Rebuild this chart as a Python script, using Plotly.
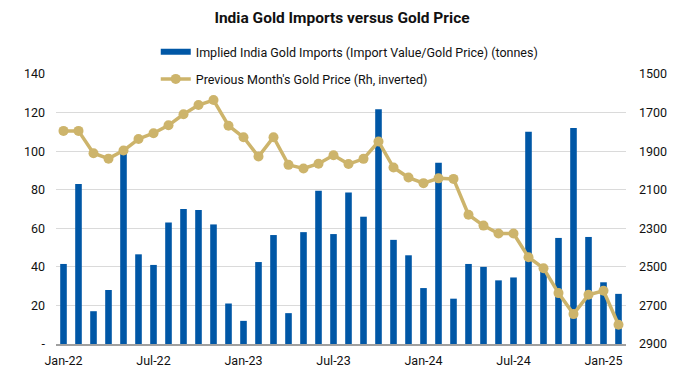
import plotly.graph_objects as go

months = ["Jan-22","Feb-22","Mar-22","Apr-22","May-22","Jun-22","Jul-22","Aug-22","Sep-22","Oct-22","Nov-22","Dec-22",
          "Jan-23","Feb-23","Mar-23","Apr-23","May-23","Jun-23","Jul-23","Aug-23","Sep-23","Oct-23","Nov-23","Dec-23",
          "Jan-24","Feb-24","Mar-24","Apr-24","May-24","Jun-24","Jul-24","Aug-24","Sep-24","Oct-24","Nov-24","Dec-24",
          "Jan-25","Feb-25"]
imports_t = [41.5, 83, 17, 28, 99, 46.5, 41, 63, 70, 69.5, 62, 21,
             12, 42.5, 56.5, 16, 58, 79.5, 57, 78.5, 66, 121.7, 54, 46,
             29, 94, 23.5, 41.5, 40, 33, 34.5, 110, 38, 55, 112, 55.5,
             32, 26]
gold_price = [1795, 1795, 1911, 1939, 1897, 1837, 1807, 1766, 1709, 1661, 1635, 1768,
              1828, 1928, 1828, 1971, 1990, 1965, 1921, 1967, 1940, 1850, 1985, 2037,
              2066, 2041, 2044, 2230, 2286, 2327, 2327, 2450, 2507, 2636, 2745, 2645,
              2624, 2800]
tick_labels = ["Jan-22","Jul-22","Jan-23","Jul-23","Jan-24","Jul-24","Jan-25"]
left_ticks = [0, 20, 40, 60, 80, 100, 120, 140]
left_text = ["-", "20", "40", "60", "80", "100", "120", "140"]
right_ticks = [1500, 1700, 1900, 2100, 2300, 2500, 2700, 2900]

FONT = "Roboto, sans-serif"
BLUE = "#0057A6"
GOLD = "#CDB46B"

fig = go.Figure()
fig.add_trace(go.Bar(
    x=months, y=imports_t,
    name="Implied India Gold Imports (Import Value/Gold Price) (tonnes)",
    marker=dict(color=BLUE, line=dict(width=0)),
    legendgroup="a", showlegend=False,
))
# legend-only entry so the legend key is a wide bar like the original
fig.add_trace(go.Scatter(
    x=[None], y=[None], mode="lines",
    name="Implied India Gold Imports (Import Value/Gold Price) (tonnes)",
    line=dict(color=BLUE, width=6),
    legendgroup="a",
))
fig.add_trace(go.Scatter(
    x=months, y=gold_price, yaxis="y2",
    name="Previous Month's Gold Price (Rh, inverted)",
    mode="lines+markers",
    line=dict(color=GOLD, width=3.5),
    marker=dict(color=GOLD, size=10),
    legendgroup="b",
))

fig.update_layout(
    width=684, height=382,
    margin=dict(l=56, r=58, t=74, b=38, autoexpand=False),
    paper_bgcolor="white", plot_bgcolor="white",
    font=dict(family=FONT, size=12.5, color="#111111"),
    title=dict(text="<b>India Gold Imports versus Gold Price</b>",
               x=0.5, xanchor="center", y=0.955, yanchor="middle",
               font=dict(family=FONT, size=15.5, color="#111111")),
    bargap=0.56,
    showlegend=True,
    legend=dict(x=0.175, xanchor="left", y=1.137, yanchor="top",
                bgcolor="rgba(0,0,0,0)", tracegroupgap=8,
                font=dict(family=FONT, size=12.5), itemwidth=30),
    xaxis=dict(
        type="category", automargin=False, range=[-0.5, len(months) - 0.5],
        tickmode="array", tickvals=tick_labels, ticktext=tick_labels,
        showgrid=False, showline=True, linecolor="#A0A0A0", linewidth=1.5,
        ticks="", tickfont=dict(size=12.5), ticklabelstandoff=4,
    ),
    yaxis=dict(
        range=[0, 140], tickmode="array", tickvals=left_ticks, ticktext=left_text,
        automargin=False,
        showgrid=True, gridcolor="#DADADA", gridwidth=1, zeroline=False,
        ticks="", tickfont=dict(size=12.5), ticklabelstandoff=10,
    ),
    yaxis2=dict(
        range=[2900, 1500], overlaying="y", side="right",
        tickmode="array", tickvals=right_ticks, automargin=False,
        showgrid=False, zeroline=False, ticks="",
        tickfont=dict(size=12.5), ticklabelstandoff=12,
    ),
)

fig.write_html("out.html")
